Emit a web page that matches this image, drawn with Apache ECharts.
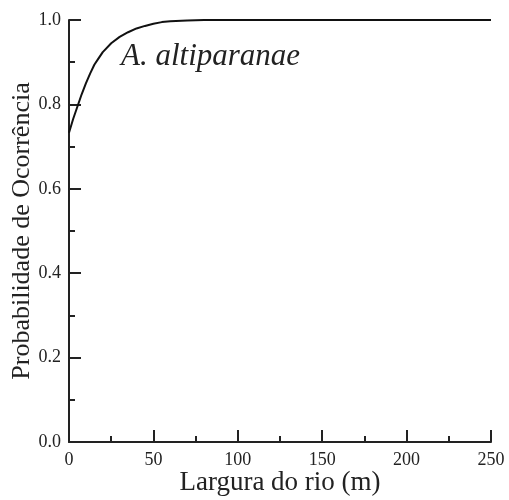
<!DOCTYPE html>
<html>
<head>
<meta charset="utf-8">
<script src="https://cdn.jsdelivr.net/npm/echarts@6/dist/echarts.min.js"></script>
<style>
  html, body { margin: 0; padding: 0; background: #fff; }
  #chart { width: 509px; height: 500px; }
</style>
</head>
<body>
<div id="chart"></div>
<script>
// largura do rio (m) e probabilidade
const larguras = [0, 2.5, 5, 7.5, 10, 12.5, 15, 17.5, 20, 25, 30, 35, 40, 45, 50, 55, 60, 70, 80, 100, 125, 150, 175, 200, 225, 250];
const probabilidade = [0.733, 0.766, 0.795, 0.824, 0.85, 0.873, 0.894, 0.909, 0.924, 0.945, 0.96, 0.971, 0.98, 0.986, 0.991, 0.995, 0.997, 0.999, 1.0, 1.0, 1.0, 1.0, 1.0, 1.0, 1.0, 1.0];
const especie = 'A. altiparanae';

const myChart = echarts.init(document.getElementById('chart'));
const serif = 'Liberation Serif';
const axisColor = '#222';

const option = {
  backgroundColor: '#fff',
  animation: false,
  grid: { left: 69, right: 18, top: 20, bottom: 58, containLabel: false, outerBoundsMode: 'none' },
  xAxis: {
    type: 'value',
    min: 0,
    max: 250,
    interval: 50,
    name: 'Largura do rio (m)',
    nameLocation: 'middle',
    nameMoveOverlap: false,
    nameGap: 27,
    nameTextStyle: { fontFamily: serif, fontSize: 27, color: axisColor },
    axisLine: { lineStyle: { color: axisColor, width: 2 } },
    axisTick: { inside: true, length: 12, lineStyle: { color: axisColor, width: 2 } },
    minorTick: { show: true, splitNumber: 2, length: 6, lineStyle: { color: axisColor, width: 2 } },
    axisLabel: { fontFamily: serif, fontSize: 18, color: axisColor, margin: 9 },
    splitLine: { show: false },
  },
  yAxis: {
    type: 'value',
    min: 0,
    max: 1,
    interval: 0.2,
    name: 'Probabilidade de Ocorrência',
    nameLocation: 'middle',
    nameMoveOverlap: false,
    nameGap: 34,
    nameTextStyle: { fontFamily: serif, fontSize: 26, color: axisColor },
    axisLine: { show: true, lineStyle: { color: axisColor, width: 2 } },
    axisTick: { show: true, inside: true, length: 12, lineStyle: { color: axisColor, width: 2 } },
    minorTick: { show: true, splitNumber: 2, length: 6, lineStyle: { color: axisColor, width: 2 } },
    axisLabel: {
      fontFamily: serif, fontSize: 18, color: axisColor, margin: 8,
      formatter: (v) => v.toFixed(1),
    },
    splitLine: { show: false },
  },
  graphic: [
    {
      type: 'text',
      left: 121,
      top: 41,
      style: {
        text: especie,
        fontFamily: serif,
        fontStyle: 'italic',
        fontSize: 31,
        fill: axisColor,
      },
    },
  ],
  series: [
    {
      type: 'line',
      showSymbol: false,
      lineStyle: { color: '#111', width: 2 },
      data: larguras.map((x, i) => [x, probabilidade[i]]),
    },
  ],
};

myChart.setOption(option);
</script>
</body>
</html>
